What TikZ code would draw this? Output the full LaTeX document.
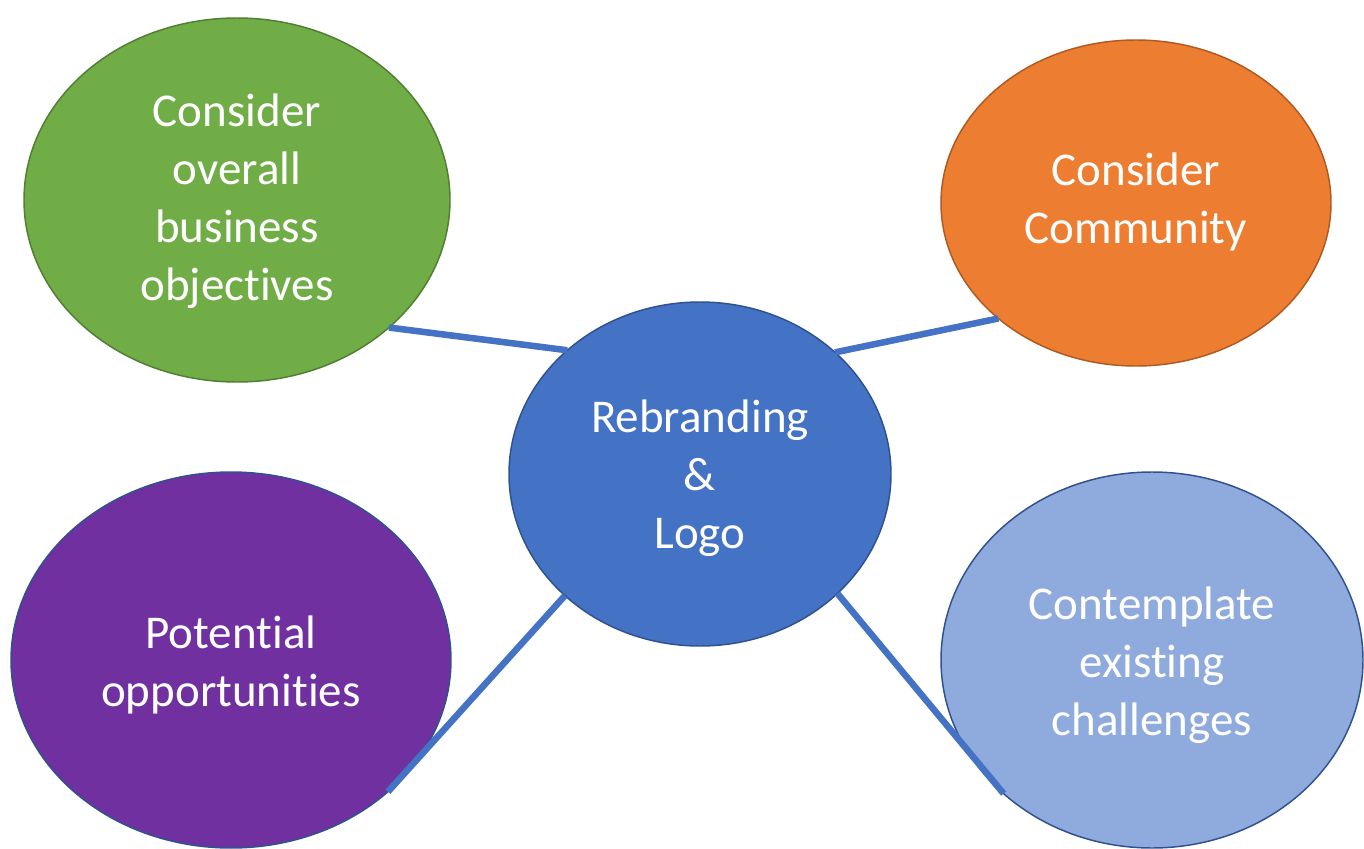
\documentclass[tikz,border=0pt]{standalone}
\usepackage{fontspec}
\setmainfont{Carlito}[Ligatures={NoCommon,NoContextual}]
\usetikzlibrary{shapes.geometric}

% keeps "t" and "i" as separate glyphs
\newcommand{\splitti}{t\kern0pt i}

\definecolor{leafgreen}{HTML}{70AD47}
\definecolor{leafgreenedge}{HTML}{507E32}
\definecolor{tangerine}{HTML}{ED7D31}
\definecolor{tangerineedge}{HTML}{AE5A21}
\definecolor{royal}{HTML}{4472C4}
\definecolor{royaledge}{HTML}{2F528F}
\definecolor{plum}{HTML}{7030A0}
\definecolor{skyblue}{HTML}{8FAADC}

\tikzset{
  bubble/.style={ellipse, draw, line width=1.1pt, inner sep=0pt, outer sep=0pt},
  caption/.style={align=center, text=white, inner sep=0pt,
    font=\fontsize{35.25}{43.5}\selectfont},
  spoke/.style={draw=royal, line width=4.9pt, line cap=butt}
}

\begin{document}
\begin{tikzpicture}[x=0.75pt, y=-0.75pt]
  \useasboundingbox (0,0) rectangle (1364,849);

  % hub and the four topic bubbles
  \node[bubble, fill=royal, draw=royaledge,
        minimum width=382*0.75pt, minimum height=344*0.75pt]
    (hub) at (700,474) {};
  \node[bubble, fill=leafgreen, draw=leafgreenedge,
        minimum width=426*0.75pt, minimum height=364*0.75pt]
    (goals) at (237,200) {};
  \node[bubble, fill=tangerine, draw=tangerineedge,
        minimum width=390*0.75pt, minimum height=326*0.75pt]
    (community) at (1136,203) {};
  \node[bubble, fill=plum, draw=royaledge,
        minimum width=440*0.75pt, minimum height=376*0.75pt]
    (chances) at (231,660) {};
  \node[bubble, fill=skyblue, draw=royaledge,
        minimum width=422*0.75pt, minimum height=376*0.75pt]
    (hurdles) at (1152,660) {};

  % bubble texts
  \node[caption] (hub-text) at ([yshift=-3pt]hub.center) {Rebranding\\\&\\Logo};
  \node[caption] (goals-text) at ([yshift=-1pt]goals.center) {Consider\\overall\\business\\objec\splitti ves};
  \node[caption] (community-text) at ([yshift=1pt]community.center) {Consider\\Community};
  \node[caption] (chances-text) at ([yshift=-4pt]chances.center) {Poten\splitti al\\opportuni\splitti es};
  \node[caption] (hurdles-text) at ([yshift=-4pt]hurdles.center) {Contemplate\\existing\\challenges};

  % connectors from the hub to each bubble
  \draw[spoke] (goals.-40.5) -- (hub.137.4);
  \draw[spoke] (hub.42.8) -- (community.-140.4);
  \draw[spoke] (hub.-138.3) -- (chances.-40.2);
  \draw[spoke] (hub.-41.9) -- (hurdles.-138.5);
\end{tikzpicture}
\end{document}
